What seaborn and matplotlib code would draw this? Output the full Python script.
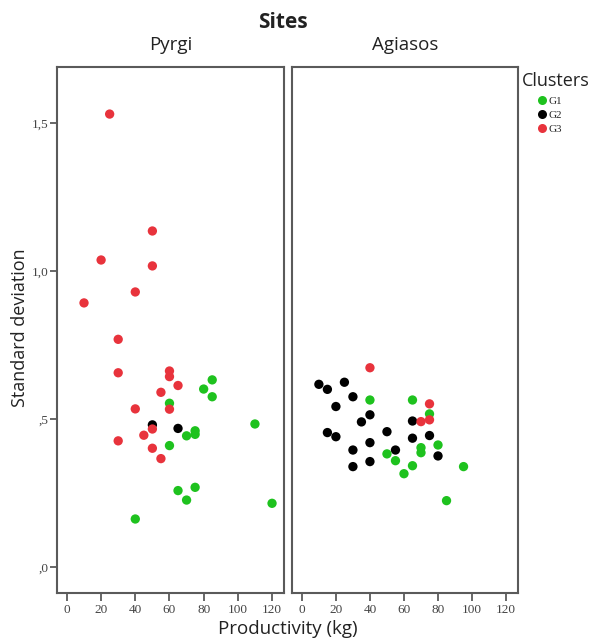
import pandas as pd
import matplotlib
matplotlib.use("Agg")
import matplotlib.pyplot as plt
import seaborn as sns
from matplotlib.lines import Line2D

# Pyrgi site
pyrgi_x = [25, 50, 20, 50, 40, 10, 30, 30, 60, 60, 65, 55, 80, 85, 85, 40, 60, 60,
           50, 50, 65, 70, 75, 75, 110, 30, 45, 50, 60, 55, 65, 75, 70, 120, 40]
pyrgi_y = [1.53, 1.135, 1.037, 1.017, 0.929, 0.892, 0.769, 0.656, 0.662, 0.643, 0.613, 0.590,
           0.601, 0.632, 0.575, 0.534, 0.553, 0.533, 0.480, 0.466, 0.468, 0.443, 0.460, 0.448,
           0.483, 0.426, 0.445, 0.401, 0.410, 0.366, 0.258, 0.269, 0.226, 0.215, 0.162]
pyrgi_c = ["G3", "G3", "G3", "G3", "G3", "G3", "G3", "G3", "G3", "G3", "G3", "G3",
           "G1", "G1", "G1", "G3", "G1", "G3", "G2", "G3", "G2", "G1", "G1", "G1",
           "G1", "G3", "G3", "G3", "G1", "G3", "G1", "G1", "G1", "G1", "G1"]

# Agiasos site
agiasos_x = [40, 10, 15, 25, 30, 20, 40, 65, 75, 75, 40, 35, 65, 70, 75, 15, 20, 50,
             65, 75, 40, 70, 80, 30, 55, 70, 50, 80, 55, 40, 65, 30, 95, 60, 85]
agiasos_y = [0.673, 0.617, 0.600, 0.624, 0.575, 0.542, 0.564, 0.564, 0.551, 0.517, 0.514,
             0.490, 0.493, 0.491, 0.497, 0.454, 0.440, 0.457, 0.435, 0.444, 0.420, 0.403,
             0.412, 0.395, 0.395, 0.386, 0.382, 0.375, 0.359, 0.356, 0.342, 0.339, 0.339,
             0.315, 0.224]
agiasos_c = ["G3", "G2", "G2", "G2", "G2", "G2", "G1", "G1", "G3", "G1", "G2", "G2",
             "G2", "G3", "G3", "G2", "G2", "G2", "G2", "G2", "G2", "G1", "G1", "G2",
             "G2", "G1", "G1", "G2", "G1", "G2", "G1", "G2", "G1", "G1", "G1"]

sites = ["Pyrgi", "Agiasos"]
clusters = ["G1", "G2", "G3"]
colors = {"G1": "#1ec21e", "G2": "#000000", "G3": "#e8333c"}

df = pd.concat([
    pd.DataFrame({"x": pyrgi_x, "y": pyrgi_y, "cluster": pyrgi_c, "site": "Pyrgi"}),
    pd.DataFrame({"x": agiasos_x, "y": agiasos_y, "cluster": agiasos_c, "site": "Agiasos"}),
])

sns.set_style("white")
plt.rcParams["font.family"] = ["Open Sans", "DejaVu Sans"]

fig = plt.figure(figsize=(5.92, 6.41), dpi=100)
W, H = 592, 641
panels = [(57, 284), (292, 518)]
top, bottom = 67, 593
frame_col = "#5a5a5a"
text_col = "#222222"

for i, (site, (l, r)) in enumerate(zip(sites, panels)):
    ax = fig.add_axes([l / W, 1 - bottom / H, (r - l) / W, (bottom - top) / H])
    sub = df[df["site"] == site]
    sns.scatterplot(data=sub, x="x", y="y", hue="cluster", hue_order=clusters,
                    palette=colors, s=45, edgecolor="none", legend=False, ax=ax)
    ax.set_xlim(-5.8, 127)
    ax.set_ylim(-0.088, 1.689)
    ax.set_xticks([0, 20, 40, 60, 80, 100, 120])
    ax.set_xticklabels(["0", "20", "40", "60", "80", "100", "120"],
                       family="Liberation Serif", fontsize=9.5, color="#444444")
    ax.set_xlabel("")
    ax.set_ylabel("")
    if i == 0:
        ax.set_yticks([0, 0.5, 1.0, 1.5])
        ax.set_yticklabels([",0", ",5", "1,0", "1,5"], family="Liberation Serif",
                           fontsize=9.5, color="#444444")
        ax.tick_params(axis="y", left=True, direction="out", length=5, width=1.3,
                       color=frame_col, pad=1)
    else:
        ax.set_yticks([])
    ax.tick_params(axis="x", bottom=True, direction="out", length=6, width=1.3,
                   color=frame_col, pad=2)
    for sp in ax.spines.values():
        sp.set_color(frame_col)
        sp.set_linewidth(1.5)
    ax.set_title(site, fontsize=13.5, pad=12, color=text_col)

fig.text(283 / W, 1 - 22 / H, "Sites", ha="center", va="center",
         fontsize=15, fontweight="bold", color=text_col)
fig.text(20 / W, 1 - 328 / H, "Standard deviation", rotation=90, ha="center",
         va="center", fontsize=13, color=text_col)
fig.text(288 / W, 1 - 629 / H, "Productivity (kg)", ha="center", va="center",
         fontsize=13.5, color=text_col)
fig.text(522 / W, 1 - 81 / H, "Clusters", ha="left", va="center",
         fontsize=13, color=text_col)

handles = [Line2D([], [], marker="o", linestyle="", markersize=6.5,
                  markerfacecolor=colors[c], markeredgecolor="none") for c in clusters]
fig.legend(handles, clusters, loc="upper left",
           bbox_to_anchor=(536 / W, 1 - 96 / H), frameon=False,
           prop={"family": "Liberation Serif", "size": 8},
           handlelength=1.0, handletextpad=0.15, labelspacing=0.38,
           borderaxespad=0, borderpad=0)

fig.savefig("out.png", dpi=100)
